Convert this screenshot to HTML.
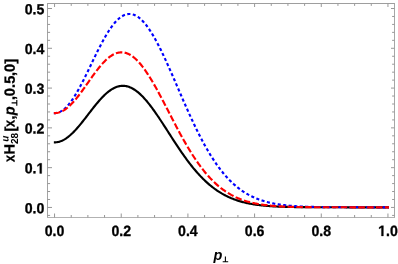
<!DOCTYPE html>
<html><head><meta charset="utf-8"><style>
html,body{margin:0;padding:0;background:#fff;}
svg{display:block;will-change:transform}
text{font-family:"Liberation Sans",sans-serif;font-weight:bold;font-size:14.4px;fill:#000}
.tk text{font-size:14.1px}
.yl text{font-size:14.5px}
</style></head><body>
<svg width="398" height="264" viewBox="0 0 398 264">
<rect width="398" height="264" fill="#fff"/>
<g fill="none" stroke-width="2.15" stroke-linejoin="round">
<path d="M53.85,142.37 L54.55,142.37 L55.38,142.35 L56.22,142.29 L57.05,142.18 L57.88,142.03 L58.72,141.84 L59.55,141.61 L60.38,141.34 L61.22,141.02 L62.05,140.67 L62.88,140.27 L63.72,139.84 L64.55,139.37 L65.39,138.86 L66.22,138.31 L67.05,137.73 L67.89,137.11 L68.72,136.45 L69.55,135.77 L70.39,135.05 L71.22,134.30 L72.05,133.52 L72.89,132.71 L73.72,131.87 L74.55,131.01 L75.39,130.12 L76.22,129.21 L77.05,128.28 L77.89,127.33 L78.72,126.35 L79.55,125.36 L80.39,124.35 L81.22,123.33 L82.06,122.29 L82.89,121.25 L83.72,120.19 L84.56,119.12 L85.39,118.05 L86.22,116.97 L87.06,115.89 L87.89,114.81 L88.72,113.72 L89.56,112.64 L90.39,111.56 L91.22,110.48 L92.06,109.41 L92.89,108.34 L93.72,107.29 L94.56,106.25 L95.39,105.21 L96.22,104.19 L97.06,103.19 L97.89,102.20 L98.73,101.23 L99.56,100.28 L100.39,99.36 L101.23,98.45 L102.06,97.56 L102.89,96.70 L103.73,95.87 L104.56,95.06 L105.39,94.28 L106.23,93.53 L107.06,92.81 L107.89,92.12 L108.73,91.46 L109.56,90.84 L110.39,90.25 L111.23,89.69 L112.06,89.17 L112.89,88.68 L113.73,88.23 L114.56,87.82 L115.40,87.45 L116.23,87.11 L117.06,86.81 L117.90,86.55 L118.73,86.34 L119.56,86.16 L120.40,86.02 L121.23,85.92 L122.06,85.86 L122.90,85.84 L123.73,85.86 L124.56,85.92 L125.40,86.02 L126.23,86.17 L127.06,86.35 L127.90,86.57 L128.73,86.83 L129.56,87.13 L130.40,87.47 L131.23,87.85 L132.07,88.26 L132.90,88.72 L133.73,89.21 L134.57,89.73 L135.40,90.30 L136.23,90.89 L137.07,91.53 L137.90,92.19 L138.73,92.89 L139.57,93.63 L140.40,94.39 L141.23,95.19 L142.07,96.01 L142.90,96.87 L143.73,97.75 L144.57,98.66 L145.40,99.60 L146.24,100.56 L147.07,101.55 L147.90,102.57 L148.74,103.60 L149.57,104.66 L150.40,105.74 L151.24,106.84 L152.07,107.96 L152.90,109.09 L153.74,110.25 L154.57,111.42 L155.40,112.60 L156.24,113.80 L157.07,115.01 L157.90,116.24 L158.74,117.47 L159.57,118.72 L160.40,119.98 L161.24,121.24 L162.07,122.51 L162.90,123.79 L163.74,125.07 L164.57,126.36 L165.41,127.65 L166.24,128.95 L167.07,130.24 L167.91,131.54 L168.74,132.84 L169.57,134.14 L170.41,135.43 L171.24,136.73 L172.07,138.02 L172.91,139.31 L173.74,140.59 L174.57,141.87 L175.41,143.14 L176.24,144.40 L177.07,145.66 L177.91,146.91 L178.74,148.16 L179.57,149.39 L180.41,150.62 L181.24,151.83 L182.08,153.04 L182.91,154.23 L183.74,155.41 L184.58,156.58 L185.41,157.74 L186.24,158.88 L187.08,160.02 L187.91,161.13 L188.74,162.24 L189.58,163.33 L190.41,164.41 L191.24,165.47 L192.08,166.51 L192.91,167.55 L193.74,168.56 L194.58,169.56 L195.41,170.55 L196.25,171.52 L197.08,172.47 L197.91,173.41 L198.75,174.33 L199.58,175.24 L200.41,176.13 L201.25,177.00 L202.08,177.86 L202.91,178.70 L203.75,179.52 L204.58,180.33 L205.41,181.12 L206.25,181.89 L207.08,182.65 L207.91,183.39 L208.75,184.12 L209.58,184.83 L210.41,185.52 L211.25,186.20 L212.08,186.86 L212.92,187.51 L213.75,188.14 L214.58,188.76 L215.42,189.36 L216.25,189.95 L217.08,190.52 L217.92,191.08 L218.75,191.62 L219.58,192.15 L220.42,192.67 L221.25,193.17 L222.08,193.66 L222.92,194.13 L223.75,194.59 L224.58,195.04 L225.42,195.48 L226.25,195.90 L227.08,196.31 L227.92,196.71 L228.75,197.10 L229.58,197.47 L230.42,197.83 L231.25,198.19 L232.09,198.53 L232.92,198.86 L233.75,199.18 L234.59,199.49 L235.42,199.79 L236.25,200.09 L237.09,200.37 L237.92,200.64 L238.75,200.90 L239.59,201.16 L240.42,201.40 L241.25,201.64 L242.09,201.87 L242.92,202.09 L243.75,202.31 L244.59,202.51 L245.42,202.71 L246.25,202.90 L247.09,203.09 L247.92,203.26 L248.76,203.44 L249.59,203.60 L250.42,203.76 L251.26,203.91 L252.09,204.06 L252.92,204.20 L253.76,204.34 L254.59,204.47 L255.42,204.59 L256.26,204.72 L257.09,204.83 L257.92,204.94 L258.76,205.05 L259.59,205.15 L260.42,205.25 L261.26,205.35 L262.09,205.44 L262.93,205.52 L263.76,205.61 L264.59,205.69 L265.43,205.76 L266.26,205.84 L267.09,205.91 L267.93,205.97 L268.76,206.04 L269.59,206.10 L270.43,206.16 L271.26,206.21 L272.09,206.27 L272.93,206.32 L273.76,206.37 L274.59,206.41 L275.43,206.46 L276.26,206.50 L277.09,206.54 L277.93,206.58 L278.76,206.62 L279.59,206.65 L280.43,206.68 L281.26,206.72 L282.10,206.75 L282.93,206.78 L283.76,206.80 L284.60,206.83 L285.43,206.85 L286.26,206.88 L287.10,206.90 L287.93,206.92 L288.76,206.94 L289.60,206.96 L290.43,206.98 L291.26,207.00 L292.10,207.01 L292.93,207.03 L293.76,207.04 L294.60,207.06 L295.43,207.07 L296.26,207.09 L297.10,207.10 L297.93,207.11 L298.77,207.12 L299.60,207.13 L300.43,207.14 L301.27,207.15 L302.10,207.16 L302.93,207.17 L303.77,207.17 L304.60,207.18 L305.43,207.19 L306.27,207.19 L307.10,207.20 L307.93,207.21 L308.77,207.21 L309.60,207.22 L310.43,207.22 L311.27,207.23 L312.10,207.23 L312.94,207.24 L313.77,207.24 L314.60,207.24 L315.44,207.25 L316.27,207.25 L317.10,207.25 L317.94,207.26 L318.77,207.26 L319.60,207.26 L320.44,207.26 L321.27,207.27 L322.10,207.27 L322.94,207.27 L323.77,207.27 L324.60,207.27 L325.44,207.28 L326.27,207.28 L327.10,207.28 L327.94,207.28 L328.77,207.28 L329.61,207.28 L330.44,207.28 L331.27,207.28 L332.11,207.29 L332.94,207.29 L333.77,207.29 L334.61,207.29 L335.44,207.29 L336.27,207.29 L337.11,207.29 L337.94,207.29 L338.77,207.29 L339.61,207.29 L340.44,207.29 L341.27,207.29 L342.11,207.29 L342.94,207.29 L343.77,207.29 L344.61,207.29 L345.44,207.30 L346.27,207.30 L347.11,207.30 L347.94,207.30 L348.78,207.30 L349.61,207.30 L350.44,207.30 L351.28,207.30 L352.11,207.30 L352.94,207.30 L353.78,207.30 L354.61,207.30 L355.44,207.30 L356.28,207.30 L357.11,207.30 L357.94,207.30 L358.78,207.30 L359.61,207.30 L360.44,207.30 L361.28,207.30 L362.11,207.30 L362.94,207.30 L363.78,207.30 L364.61,207.30 L365.45,207.30 L366.28,207.30 L367.11,207.30 L367.95,207.30 L368.78,207.30 L369.61,207.30 L370.45,207.30 L371.28,207.30 L372.11,207.30 L372.95,207.30 L373.78,207.30 L374.61,207.30 L375.45,207.30 L376.28,207.30 L377.11,207.30 L377.95,207.30 L378.78,207.30 L379.62,207.30 L380.45,207.30 L381.28,207.30 L382.12,207.30 L382.95,207.30 L383.78,207.30 L384.62,207.30 L385.45,207.30 L386.28,207.30 L387.12,207.30 L387.95,207.30 L388.95,207.30" stroke="#000"/>
<path d="M53.85,113.15 L54.55,113.15 L55.38,113.12 L56.22,113.02 L57.05,112.87 L57.88,112.65 L58.72,112.37 L59.55,112.03 L60.38,111.62 L61.22,111.16 L62.05,110.64 L62.88,110.05 L63.72,109.41 L64.55,108.71 L65.39,107.96 L66.22,107.15 L67.05,106.28 L67.89,105.36 L68.72,104.39 L69.55,103.37 L70.39,102.29 L71.22,101.17 L72.05,100.01 L72.89,98.79 L73.72,97.54 L74.55,96.24 L75.39,94.90 L76.22,93.52 L77.05,92.10 L77.89,90.65 L78.72,89.17 L79.55,87.65 L80.39,86.11 L81.22,84.54 L82.06,82.94 L82.89,81.32 L83.72,79.68 L84.56,78.02 L85.39,76.34 L86.22,74.65 L87.06,72.94 L87.89,71.22 L88.72,69.50 L89.56,67.77 L90.39,66.03 L91.22,64.29 L92.06,62.56 L92.89,60.82 L93.72,59.09 L94.56,57.36 L95.39,55.65 L96.22,53.94 L97.06,52.25 L97.89,50.57 L98.73,48.91 L99.56,47.27 L100.39,45.65 L101.23,44.05 L102.06,42.48 L102.89,40.93 L103.73,39.41 L104.56,37.92 L105.39,36.46 L106.23,35.04 L107.06,33.65 L107.89,32.30 L108.73,30.99 L109.56,29.72 L110.39,28.48 L111.23,27.29 L112.06,26.15 L112.89,25.05 L113.73,24.00 L114.56,22.99 L115.40,22.03 L116.23,21.13 L117.06,20.27 L117.90,19.47 L118.73,18.71 L119.56,18.02 L120.40,17.37 L121.23,16.78 L122.06,16.24 L122.90,15.77 L123.73,15.34 L124.56,14.98 L125.40,14.67 L126.23,14.41 L127.06,14.22 L127.90,14.08 L128.73,14.00 L129.56,13.98 L130.40,14.02 L131.23,14.11 L132.07,14.26 L132.90,14.47 L133.73,14.73 L134.57,15.05 L135.40,15.43 L136.23,15.86 L137.07,16.35 L137.90,16.89 L138.73,17.49 L139.57,18.14 L140.40,18.84 L141.23,19.59 L142.07,20.40 L142.90,21.25 L143.73,22.16 L144.57,23.11 L145.40,24.12 L146.24,25.17 L147.07,26.26 L147.90,27.40 L148.74,28.58 L149.57,29.81 L150.40,31.07 L151.24,32.38 L152.07,33.73 L152.90,35.11 L153.74,36.53 L154.57,37.99 L155.40,39.48 L156.24,41.00 L157.07,42.56 L157.90,44.14 L158.74,45.76 L159.57,47.40 L160.40,49.07 L161.24,50.77 L162.07,52.49 L162.90,54.23 L163.74,55.99 L164.57,57.77 L165.41,59.58 L166.24,61.40 L167.07,63.23 L167.91,65.08 L168.74,66.95 L169.57,68.82 L170.41,70.71 L171.24,72.61 L172.07,74.51 L172.91,76.43 L173.74,78.35 L174.57,80.27 L175.41,82.20 L176.24,84.13 L177.07,86.07 L177.91,88.00 L178.74,89.93 L179.57,91.87 L180.41,93.80 L181.24,95.72 L182.08,97.64 L182.91,99.56 L183.74,101.47 L184.58,103.37 L185.41,105.26 L186.24,107.15 L187.08,109.02 L187.91,110.89 L188.74,112.74 L189.58,114.58 L190.41,116.41 L191.24,118.22 L192.08,120.02 L192.91,121.80 L193.74,123.57 L194.58,125.32 L195.41,127.06 L196.25,128.77 L197.08,130.47 L197.91,132.16 L198.75,133.82 L199.58,135.46 L200.41,137.09 L201.25,138.69 L202.08,140.28 L202.91,141.84 L203.75,143.38 L204.58,144.90 L205.41,146.40 L206.25,147.88 L207.08,149.33 L207.91,150.77 L208.75,152.18 L209.58,153.57 L210.41,154.94 L211.25,156.28 L212.08,157.60 L212.92,158.90 L213.75,160.18 L214.58,161.43 L215.42,162.66 L216.25,163.87 L217.08,165.05 L217.92,166.22 L218.75,167.36 L219.58,168.47 L220.42,169.57 L221.25,170.64 L222.08,171.69 L222.92,172.72 L223.75,173.73 L224.58,174.71 L225.42,175.68 L226.25,176.62 L227.08,177.54 L227.92,178.44 L228.75,179.32 L229.58,180.18 L230.42,181.02 L231.25,181.83 L232.09,182.63 L232.92,183.41 L233.75,184.17 L234.59,184.91 L235.42,185.63 L236.25,186.34 L237.09,187.02 L237.92,187.69 L238.75,188.34 L239.59,188.97 L240.42,189.59 L241.25,190.19 L242.09,190.77 L242.92,191.33 L243.75,191.88 L244.59,192.42 L245.42,192.94 L246.25,193.44 L247.09,193.93 L247.92,194.41 L248.76,194.87 L249.59,195.31 L250.42,195.75 L251.26,196.17 L252.09,196.58 L252.92,196.97 L253.76,197.35 L254.59,197.72 L255.42,198.08 L256.26,198.43 L257.09,198.77 L257.92,199.09 L258.76,199.41 L259.59,199.71 L260.42,200.00 L261.26,200.29 L262.09,200.56 L262.93,200.83 L263.76,201.09 L264.59,201.33 L265.43,201.57 L266.26,201.80 L267.09,202.02 L267.93,202.24 L268.76,202.45 L269.59,202.65 L270.43,202.84 L271.26,203.02 L272.09,203.20 L272.93,203.37 L273.76,203.54 L274.59,203.70 L275.43,203.85 L276.26,204.00 L277.09,204.14 L277.93,204.28 L278.76,204.41 L279.59,204.53 L280.43,204.66 L281.26,204.77 L282.10,204.88 L282.93,204.99 L283.76,205.09 L284.60,205.19 L285.43,205.29 L286.26,205.38 L287.10,205.47 L287.93,205.55 L288.76,205.63 L289.60,205.71 L290.43,205.78 L291.26,205.85 L292.10,205.92 L292.93,205.98 L293.76,206.05 L294.60,206.10 L295.43,206.16 L296.26,206.22 L297.10,206.27 L297.93,206.32 L298.77,206.37 L299.60,206.41 L300.43,206.45 L301.27,206.50 L302.10,206.53 L302.93,206.57 L303.77,206.61 L304.60,206.64 L305.43,206.68 L306.27,206.71 L307.10,206.74 L307.93,206.77 L308.77,206.79 L309.60,206.82 L310.43,206.84 L311.27,206.87 L312.10,206.89 L312.94,206.91 L313.77,206.93 L314.60,206.95 L315.44,206.97 L316.27,206.99 L317.10,207.00 L317.94,207.02 L318.77,207.03 L319.60,207.05 L320.44,207.06 L321.27,207.07 L322.10,207.09 L322.94,207.10 L323.77,207.11 L324.60,207.12 L325.44,207.13 L326.27,207.14 L327.10,207.15 L327.94,207.16 L328.77,207.16 L329.61,207.17 L330.44,207.18 L331.27,207.19 L332.11,207.19 L332.94,207.20 L333.77,207.20 L334.61,207.21 L335.44,207.21 L336.27,207.22 L337.11,207.22 L337.94,207.23 L338.77,207.23 L339.61,207.24 L340.44,207.24 L341.27,207.24 L342.11,207.25 L342.94,207.25 L343.77,207.25 L344.61,207.26 L345.44,207.26 L346.27,207.26 L347.11,207.26 L347.94,207.27 L348.78,207.27 L349.61,207.27 L350.44,207.27 L351.28,207.27 L352.11,207.27 L352.94,207.28 L353.78,207.28 L354.61,207.28 L355.44,207.28 L356.28,207.28 L357.11,207.28 L357.94,207.28 L358.78,207.28 L359.61,207.29 L360.44,207.29 L361.28,207.29 L362.11,207.29 L362.94,207.29 L363.78,207.29 L364.61,207.29 L365.45,207.29 L366.28,207.29 L367.11,207.29 L367.95,207.29 L368.78,207.29 L369.61,207.29 L370.45,207.29 L371.28,207.29 L372.11,207.29 L372.95,207.30 L373.78,207.30 L374.61,207.30 L375.45,207.30 L376.28,207.30 L377.11,207.30 L377.95,207.30 L378.78,207.30 L379.62,207.30 L380.45,207.30 L381.28,207.30 L382.12,207.30 L382.95,207.30 L383.78,207.30 L384.62,207.30 L385.45,207.30 L386.28,207.30 L387.12,207.30 L387.95,207.30 L388.95,207.30" stroke="#00f" stroke-dasharray="3.1 2.435"/>
<path d="M53.85,113.15 L54.55,113.15 L55.38,113.12 L56.22,113.05 L57.05,112.94 L57.88,112.77 L58.72,112.56 L59.55,112.31 L60.38,112.00 L61.22,111.66 L62.05,111.26 L62.88,110.83 L63.72,110.35 L64.55,109.83 L65.39,109.26 L66.22,108.66 L67.05,108.02 L67.89,107.33 L68.72,106.61 L69.55,105.85 L70.39,105.06 L71.22,104.23 L72.05,103.37 L72.89,102.48 L73.72,101.56 L74.55,100.61 L75.39,99.63 L76.22,98.62 L77.05,97.59 L77.89,96.54 L78.72,95.47 L79.55,94.38 L80.39,93.27 L81.22,92.14 L82.06,91.01 L82.89,89.85 L83.72,88.69 L84.56,87.52 L85.39,86.34 L86.22,85.16 L87.06,83.97 L87.89,82.78 L88.72,81.60 L89.56,80.41 L90.39,79.23 L91.22,78.05 L92.06,76.88 L92.89,75.72 L93.72,74.57 L94.56,73.43 L95.39,72.31 L96.22,71.20 L97.06,70.12 L97.89,69.05 L98.73,68.00 L99.56,66.97 L100.39,65.97 L101.23,65.00 L102.06,64.05 L102.89,63.13 L103.73,62.24 L104.56,61.38 L105.39,60.55 L106.23,59.76 L107.06,59.00 L107.89,58.28 L108.73,57.59 L109.56,56.94 L110.39,56.33 L111.23,55.77 L112.06,55.24 L112.89,54.75 L113.73,54.31 L114.56,53.91 L115.40,53.55 L116.23,53.24 L117.06,52.98 L117.90,52.75 L118.73,52.58 L119.56,52.45 L120.40,52.36 L121.23,52.33 L122.06,52.34 L122.90,52.39 L123.73,52.50 L124.56,52.65 L125.40,52.85 L126.23,53.09 L127.06,53.38 L127.90,53.72 L128.73,54.10 L129.56,54.53 L130.40,55.00 L131.23,55.52 L132.07,56.09 L132.90,56.70 L133.73,57.35 L134.57,58.04 L135.40,58.78 L136.23,59.55 L137.07,60.37 L137.90,61.23 L138.73,62.13 L139.57,63.06 L140.40,64.04 L141.23,65.05 L142.07,66.09 L142.90,67.17 L143.73,68.29 L144.57,69.43 L145.40,70.61 L146.24,71.82 L147.07,73.06 L147.90,74.33 L148.74,75.62 L149.57,76.94 L150.40,78.29 L151.24,79.66 L152.07,81.05 L152.90,82.47 L153.74,83.91 L154.57,85.36 L155.40,86.84 L156.24,88.33 L157.07,89.83 L157.90,91.36 L158.74,92.89 L159.57,94.44 L160.40,96.00 L161.24,97.57 L162.07,99.15 L162.90,100.74 L163.74,102.33 L164.57,103.93 L165.41,105.54 L166.24,107.15 L167.07,108.76 L167.91,110.37 L168.74,111.99 L169.57,113.60 L170.41,115.22 L171.24,116.83 L172.07,118.44 L172.91,120.04 L173.74,121.64 L174.57,123.24 L175.41,124.82 L176.24,126.40 L177.07,127.98 L177.91,129.54 L178.74,131.09 L179.57,132.64 L180.41,134.17 L181.24,135.69 L182.08,137.20 L182.91,138.70 L183.74,140.18 L184.58,141.65 L185.41,143.10 L186.24,144.54 L187.08,145.96 L187.91,147.37 L188.74,148.76 L189.58,150.14 L190.41,151.50 L191.24,152.84 L192.08,154.16 L192.91,155.46 L193.74,156.75 L194.58,158.02 L195.41,159.27 L196.25,160.50 L197.08,161.71 L197.91,162.90 L198.75,164.07 L199.58,165.22 L200.41,166.35 L201.25,167.46 L202.08,168.56 L202.91,169.63 L203.75,170.68 L204.58,171.71 L205.41,172.73 L206.25,173.72 L207.08,174.69 L207.91,175.64 L208.75,176.58 L209.58,177.49 L210.41,178.38 L211.25,179.26 L212.08,180.11 L212.92,180.95 L213.75,181.76 L214.58,182.56 L215.42,183.34 L216.25,184.10 L217.08,184.84 L217.92,185.57 L218.75,186.27 L219.58,186.96 L220.42,187.63 L221.25,188.29 L222.08,188.92 L222.92,189.54 L223.75,190.15 L224.58,190.74 L225.42,191.31 L226.25,191.86 L227.08,192.40 L227.92,192.93 L228.75,193.44 L229.58,193.93 L230.42,194.41 L231.25,194.88 L232.09,195.33 L232.92,195.77 L233.75,196.20 L234.59,196.61 L235.42,197.01 L236.25,197.40 L237.09,197.77 L237.92,198.14 L238.75,198.49 L239.59,198.83 L240.42,199.16 L241.25,199.48 L242.09,199.78 L242.92,200.08 L243.75,200.37 L244.59,200.65 L245.42,200.91 L246.25,201.17 L247.09,201.42 L247.92,201.66 L248.76,201.90 L249.59,202.12 L250.42,202.34 L251.26,202.55 L252.09,202.75 L252.92,202.94 L253.76,203.13 L254.59,203.31 L255.42,203.48 L256.26,203.64 L257.09,203.80 L257.92,203.96 L258.76,204.10 L259.59,204.25 L260.42,204.38 L261.26,204.51 L262.09,204.64 L262.93,204.76 L263.76,204.87 L264.59,204.98 L265.43,205.09 L266.26,205.19 L267.09,205.29 L267.93,205.38 L268.76,205.47 L269.59,205.56 L270.43,205.64 L271.26,205.72 L272.09,205.80 L272.93,205.87 L273.76,205.94 L274.59,206.00 L275.43,206.07 L276.26,206.13 L277.09,206.19 L277.93,206.24 L278.76,206.29 L279.59,206.34 L280.43,206.39 L281.26,206.44 L282.10,206.48 L282.93,206.52 L283.76,206.56 L284.60,206.60 L285.43,206.64 L286.26,206.67 L287.10,206.70 L287.93,206.73 L288.76,206.76 L289.60,206.79 L290.43,206.82 L291.26,206.84 L292.10,206.87 L292.93,206.89 L293.76,206.91 L294.60,206.93 L295.43,206.95 L296.26,206.97 L297.10,206.99 L297.93,207.01 L298.77,207.02 L299.60,207.04 L300.43,207.05 L301.27,207.07 L302.10,207.08 L302.93,207.09 L303.77,207.10 L304.60,207.12 L305.43,207.13 L306.27,207.14 L307.10,207.15 L307.93,207.15 L308.77,207.16 L309.60,207.17 L310.43,207.18 L311.27,207.19 L312.10,207.19 L312.94,207.20 L313.77,207.20 L314.60,207.21 L315.44,207.22 L316.27,207.22 L317.10,207.23 L317.94,207.23 L318.77,207.23 L319.60,207.24 L320.44,207.24 L321.27,207.25 L322.10,207.25 L322.94,207.25 L323.77,207.25 L324.60,207.26 L325.44,207.26 L326.27,207.26 L327.10,207.27 L327.94,207.27 L328.77,207.27 L329.61,207.27 L330.44,207.27 L331.27,207.27 L332.11,207.28 L332.94,207.28 L333.77,207.28 L334.61,207.28 L335.44,207.28 L336.27,207.28 L337.11,207.28 L337.94,207.29 L338.77,207.29 L339.61,207.29 L340.44,207.29 L341.27,207.29 L342.11,207.29 L342.94,207.29 L343.77,207.29 L344.61,207.29 L345.44,207.29 L346.27,207.29 L347.11,207.29 L347.94,207.29 L348.78,207.29 L349.61,207.29 L350.44,207.29 L351.28,207.30 L352.11,207.30 L352.94,207.30 L353.78,207.30 L354.61,207.30 L355.44,207.30 L356.28,207.30 L357.11,207.30 L357.94,207.30 L358.78,207.30 L359.61,207.30 L360.44,207.30 L361.28,207.30 L362.11,207.30 L362.94,207.30 L363.78,207.30 L364.61,207.30 L365.45,207.30 L366.28,207.30 L367.11,207.30 L367.95,207.30 L368.78,207.30 L369.61,207.30 L370.45,207.30 L371.28,207.30 L372.11,207.30 L372.95,207.30 L373.78,207.30 L374.61,207.30 L375.45,207.30 L376.28,207.30 L377.11,207.30 L377.95,207.30 L378.78,207.30 L379.62,207.30 L380.45,207.30 L381.28,207.30 L382.12,207.30 L382.95,207.30 L383.78,207.30 L384.62,207.30 L385.45,207.30 L386.28,207.30 L387.12,207.30 L387.95,207.30 L388.95,207.30" stroke="#f00" stroke-dasharray="6.5 2.35"/>
</g>
<g stroke="#969696" stroke-width="1" fill="none">
<path d="M47.0,3.5 H395.0" stroke="#9e9e9e"/><path d="M47.5,3.5 V217.5" stroke="#a3a3a3"/><path d="M47.0,217.5 H395.0" stroke="#b2b2b2"/><path d="M394.5,3.5 V217.5" stroke="#a6a6a6"/>
<line x1="47.5" y1="215.41" x2="50.1" y2="215.41"/><line x1="394.5" y1="215.41" x2="392.1" y2="215.41" stroke="#999"/><line x1="47.5" y1="207.45" x2="52.0" y2="207.45"/><line x1="394.5" y1="207.45" x2="391.0" y2="207.45" stroke="#999"/><line x1="47.5" y1="199.49" x2="50.1" y2="199.49"/><line x1="394.5" y1="199.49" x2="392.1" y2="199.49" stroke="#999"/><line x1="47.5" y1="191.53" x2="50.1" y2="191.53"/><line x1="394.5" y1="191.53" x2="392.1" y2="191.53" stroke="#999"/><line x1="47.5" y1="183.58" x2="50.1" y2="183.58"/><line x1="394.5" y1="183.58" x2="392.1" y2="183.58" stroke="#999"/><line x1="47.5" y1="175.62" x2="50.1" y2="175.62"/><line x1="394.5" y1="175.62" x2="392.1" y2="175.62" stroke="#999"/><line x1="47.5" y1="167.66" x2="52.0" y2="167.66"/><line x1="394.5" y1="167.66" x2="391.0" y2="167.66" stroke="#999"/><line x1="47.5" y1="159.70" x2="50.1" y2="159.70"/><line x1="394.5" y1="159.70" x2="392.1" y2="159.70" stroke="#999"/><line x1="47.5" y1="151.74" x2="50.1" y2="151.74"/><line x1="394.5" y1="151.74" x2="392.1" y2="151.74" stroke="#999"/><line x1="47.5" y1="143.79" x2="50.1" y2="143.79"/><line x1="394.5" y1="143.79" x2="392.1" y2="143.79" stroke="#999"/><line x1="47.5" y1="135.83" x2="50.1" y2="135.83"/><line x1="394.5" y1="135.83" x2="392.1" y2="135.83" stroke="#999"/><line x1="47.5" y1="127.87" x2="52.0" y2="127.87"/><line x1="394.5" y1="127.87" x2="391.0" y2="127.87" stroke="#999"/><line x1="47.5" y1="119.91" x2="50.1" y2="119.91"/><line x1="394.5" y1="119.91" x2="392.1" y2="119.91" stroke="#999"/><line x1="47.5" y1="111.95" x2="50.1" y2="111.95"/><line x1="394.5" y1="111.95" x2="392.1" y2="111.95" stroke="#999"/><line x1="47.5" y1="104.00" x2="50.1" y2="104.00"/><line x1="394.5" y1="104.00" x2="392.1" y2="104.00" stroke="#999"/><line x1="47.5" y1="96.04" x2="50.1" y2="96.04"/><line x1="394.5" y1="96.04" x2="392.1" y2="96.04" stroke="#999"/><line x1="47.5" y1="88.08" x2="52.0" y2="88.08"/><line x1="394.5" y1="88.08" x2="391.0" y2="88.08" stroke="#999"/><line x1="47.5" y1="80.12" x2="50.1" y2="80.12"/><line x1="394.5" y1="80.12" x2="392.1" y2="80.12" stroke="#999"/><line x1="47.5" y1="72.16" x2="50.1" y2="72.16"/><line x1="394.5" y1="72.16" x2="392.1" y2="72.16" stroke="#999"/><line x1="47.5" y1="64.21" x2="50.1" y2="64.21"/><line x1="394.5" y1="64.21" x2="392.1" y2="64.21" stroke="#999"/><line x1="47.5" y1="56.25" x2="50.1" y2="56.25"/><line x1="394.5" y1="56.25" x2="392.1" y2="56.25" stroke="#999"/><line x1="47.5" y1="48.29" x2="52.0" y2="48.29"/><line x1="394.5" y1="48.29" x2="391.0" y2="48.29" stroke="#999"/><line x1="47.5" y1="40.33" x2="50.1" y2="40.33"/><line x1="394.5" y1="40.33" x2="392.1" y2="40.33" stroke="#999"/><line x1="47.5" y1="32.37" x2="50.1" y2="32.37"/><line x1="394.5" y1="32.37" x2="392.1" y2="32.37" stroke="#999"/><line x1="47.5" y1="24.42" x2="50.1" y2="24.42"/><line x1="394.5" y1="24.42" x2="392.1" y2="24.42" stroke="#999"/><line x1="47.5" y1="16.46" x2="50.1" y2="16.46"/><line x1="394.5" y1="16.46" x2="392.1" y2="16.46" stroke="#999"/><line x1="47.5" y1="8.50" x2="52.0" y2="8.50"/><line x1="394.5" y1="8.50" x2="391.0" y2="8.50" stroke="#999"/><line x1="54.55" y1="217.5" x2="54.55" y2="213.5"/><line x1="54.55" y1="3.5" x2="54.55" y2="7.0" stroke="#999"/><line x1="71.22" y1="217.5" x2="71.22" y2="215.0"/><line x1="71.22" y1="3.5" x2="71.22" y2="5.9" stroke="#999"/><line x1="87.89" y1="217.5" x2="87.89" y2="215.0"/><line x1="87.89" y1="3.5" x2="87.89" y2="5.9" stroke="#999"/><line x1="104.56" y1="217.5" x2="104.56" y2="215.0"/><line x1="104.56" y1="3.5" x2="104.56" y2="5.9" stroke="#999"/><line x1="121.23" y1="217.5" x2="121.23" y2="213.5"/><line x1="121.23" y1="3.5" x2="121.23" y2="7.0" stroke="#999"/><line x1="137.90" y1="217.5" x2="137.90" y2="215.0"/><line x1="137.90" y1="3.5" x2="137.90" y2="5.9" stroke="#999"/><line x1="154.57" y1="217.5" x2="154.57" y2="215.0"/><line x1="154.57" y1="3.5" x2="154.57" y2="5.9" stroke="#999"/><line x1="171.24" y1="217.5" x2="171.24" y2="215.0"/><line x1="171.24" y1="3.5" x2="171.24" y2="5.9" stroke="#999"/><line x1="187.91" y1="217.5" x2="187.91" y2="213.5"/><line x1="187.91" y1="3.5" x2="187.91" y2="7.0" stroke="#999"/><line x1="204.58" y1="217.5" x2="204.58" y2="215.0"/><line x1="204.58" y1="3.5" x2="204.58" y2="5.9" stroke="#999"/><line x1="221.25" y1="217.5" x2="221.25" y2="215.0"/><line x1="221.25" y1="3.5" x2="221.25" y2="5.9" stroke="#999"/><line x1="237.92" y1="217.5" x2="237.92" y2="215.0"/><line x1="237.92" y1="3.5" x2="237.92" y2="5.9" stroke="#999"/><line x1="254.59" y1="217.5" x2="254.59" y2="213.5"/><line x1="254.59" y1="3.5" x2="254.59" y2="7.0" stroke="#999"/><line x1="271.26" y1="217.5" x2="271.26" y2="215.0"/><line x1="271.26" y1="3.5" x2="271.26" y2="5.9" stroke="#999"/><line x1="287.93" y1="217.5" x2="287.93" y2="215.0"/><line x1="287.93" y1="3.5" x2="287.93" y2="5.9" stroke="#999"/><line x1="304.60" y1="217.5" x2="304.60" y2="215.0"/><line x1="304.60" y1="3.5" x2="304.60" y2="5.9" stroke="#999"/><line x1="321.27" y1="217.5" x2="321.27" y2="213.5"/><line x1="321.27" y1="3.5" x2="321.27" y2="7.0" stroke="#999"/><line x1="337.94" y1="217.5" x2="337.94" y2="215.0"/><line x1="337.94" y1="3.5" x2="337.94" y2="5.9" stroke="#999"/><line x1="354.61" y1="217.5" x2="354.61" y2="215.0"/><line x1="354.61" y1="3.5" x2="354.61" y2="5.9" stroke="#999"/><line x1="371.28" y1="217.5" x2="371.28" y2="215.0"/><line x1="371.28" y1="3.5" x2="371.28" y2="5.9" stroke="#999"/><line x1="387.95" y1="217.5" x2="387.95" y2="213.5"/><line x1="387.95" y1="3.5" x2="387.95" y2="7.0" stroke="#999"/>
</g>
<g stroke="#000" stroke-width="0.3" class="tk"><g transform="translate(44.3,213.20) rotate(0.2) scale(1,1.04)"><text text-anchor="end">0.0</text></g><g transform="translate(44.3,173.41) rotate(0.2) scale(1,1.04)"><text x="-7.840" text-anchor="end">0.</text><path transform="translate(-7.840,0) scale(0.006885,-0.006885)" d="M478 0V1170L140 959V1180L493 1409H759V0Z" stroke-width="43.6"/></g><g transform="translate(44.3,133.62) rotate(0.2) scale(1,1.04)"><text text-anchor="end">0.2</text></g><g transform="translate(44.3,93.83) rotate(0.2) scale(1,1.04)"><text text-anchor="end">0.3</text></g><g transform="translate(44.3,54.04) rotate(0.2) scale(1,1.04)"><text text-anchor="end">0.4</text></g><g transform="translate(44.3,14.25) rotate(0.2) scale(1,1.04)"><text text-anchor="end">0.5</text></g></g>
<g stroke="#000" stroke-width="0.3" class="tk"><g transform="translate(54.55,235.95) rotate(0.2) scale(1,1.06)"><text text-anchor="middle">0.0</text></g><g transform="translate(121.23,235.95) rotate(0.2) scale(1,1.06)"><text text-anchor="middle">0.2</text></g><g transform="translate(187.91,235.95) rotate(0.2) scale(1,1.06)"><text text-anchor="middle">0.4</text></g><g transform="translate(254.59,235.95) rotate(0.2) scale(1,1.06)"><text text-anchor="middle">0.6</text></g><g transform="translate(321.27,235.95) rotate(0.2) scale(1,1.06)"><text text-anchor="middle">0.8</text></g><g transform="translate(387.95,235.95) rotate(0.2) scale(1,1.06)"><path transform="translate(-9.800,0) scale(0.006885,-0.006885)" d="M478 0V1170L140 959V1180L493 1409H759V0Z" stroke-width="43.6"/><text x="-1.960">.0</text></g></g>
<g transform="translate(14.5,162) rotate(-89.85) scale(1,1.02)" class="yl" stroke="#000" stroke-width="0.3">
<text transform="translate(0.1,0) scale(0.87,1)">x</text>
<text x="7.55" y="0">H</text>
<text x="18.05" y="3.3" stroke="none" style="font-size:10px">28</text>
<text x="20.3" y="-5.9" stroke="none" style="font-size:10px;font-style:italic">u</text>
<text x="30.5" y="0.6">[</text>
<text transform="translate(35.1,0) scale(0.87,1)">x</text>
<text x="42.5" y="0">,</text>
<text x="46.8" y="0" style="font-style:italic">p</text>
<path d="M56.2,2.1 H61.9 M59.1,2.1 V-3.0" stroke="#000" stroke-width="1.1" fill="none"/>
<text x="62.0" y="0">,</text>
<text x="65.8" y="0">0</text>
<text x="74.0" y="0">.</text>
<text x="78.2" y="0">5</text>
<text x="86.1" y="0">,</text>
<text x="89.9" y="0">0</text>
<text x="98.3" y="0.6">]</text>
</g>
<text x="213.5" y="259.8" style="font-style:italic;font-size:14.5px">p</text>
<path d="M222.7,261.8 H228.2 M225.4,261.8 V256.5" stroke="#000" stroke-width="1.1" fill="none"/>
</svg>
</body></html>
